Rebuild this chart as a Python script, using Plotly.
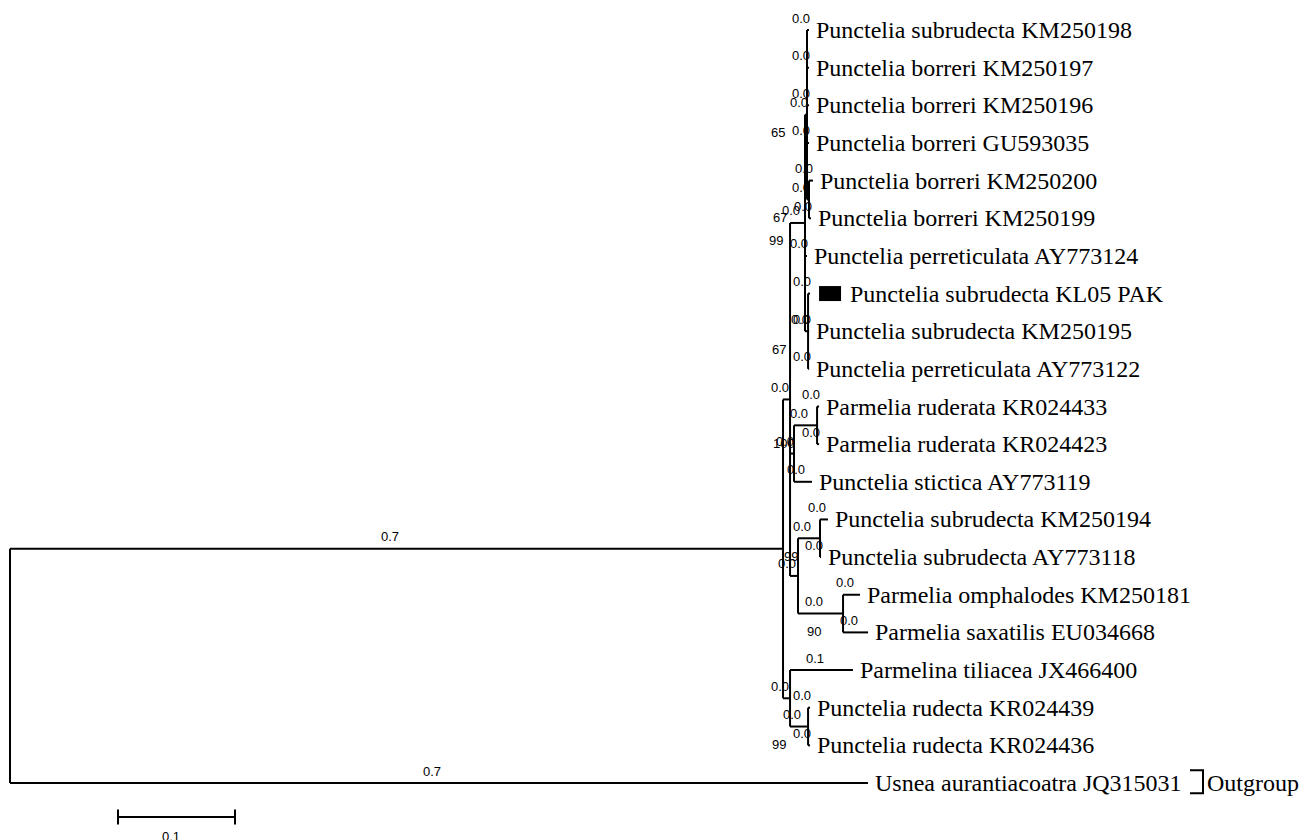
import plotly.graph_objects as go

# ---------------- data ----------------
LEAVES = [
    "Punctelia subrudecta KM250198",
    "Punctelia borreri KM250197",
    "Punctelia borreri KM250196",
    "Punctelia borreri GU593035",
    "Punctelia borreri KM250200",
    "Punctelia borreri KM250199",
    "Punctelia perreticulata AY773124",
    "Punctelia subrudecta KL05 PAK",
    "Punctelia subrudecta KM250195",
    "Punctelia perreticulata AY773122",
    "Parmelia ruderata KR024433",
    "Parmelia ruderata KR024423",
    "Punctelia stictica AY773119",
    "Punctelia subrudecta KM250194",
    "Punctelia subrudecta AY773118",
    "Parmelia omphalodes KM250181",
    "Parmelia saxatilis EU034668",
    "Parmelina tiliacea JX466400",
    "Punctelia rudecta KR024439",
    "Punctelia rudecta KR024436",
    "Usnea aurantiacoatra JQ315031",
]

# tree edges (parent, child, branch length)
EDGE_PARENT = ["root", "root",
               "A", "A",
               "B", "B", "B",
               "Q", "Q", "Q",
               "R", "R", "R", "R", "R",
               "S", "S",
               "T", "T", "T",
               "E", "E",
               "Ru", "Ru",
               "F", "F",
               "N194", "N194",
               "Om", "Om",
               "C", "C",
               "D", "D"]
EDGE_CHILD = ["A", "Usnea aurantiacoatra JQ315031",
              "B", "C",
              "Q", "E", "F",
              "R", "Punctelia perreticulata AY773124", "T",
              "Punctelia subrudecta KM250198", "Punctelia borreri KM250197",
              "Punctelia borreri KM250196", "Punctelia borreri GU593035", "S",
              "Punctelia borreri KM250200", "Punctelia borreri KM250199",
              "Punctelia subrudecta KL05 PAK", "Punctelia subrudecta KM250195",
              "Punctelia perreticulata AY773122",
              "Ru", "Punctelia stictica AY773119",
              "Parmelia ruderata KR024433", "Parmelia ruderata KR024423",
              "N194", "Om",
              "Punctelia subrudecta KM250194", "Punctelia subrudecta AY773118",
              "Parmelia omphalodes KM250181", "Parmelia saxatilis EU034668",
              "Parmelina tiliacea JX466400", "D",
              "Punctelia rudecta KR024439", "Punctelia rudecta KR024436"]
EDGE_LENGTH = [0.6607, 0.7333,
               0.0060, 0.0060,
               0.0128, 0.0034, 0.0068,
               0.0017, 0.0017, 0.0026,
               0.0017, 0.0017, 0.0017, 0.0017, 0.0017,
               0.0034, 0.0017,
               0.0017, 0.0009, 0.0009,
               0.0197, 0.0154,
               0.0017, 0.0017,
               0.0188, 0.0385,
               0.0068, 0.0009,
               0.0145, 0.0214,
               0.0538, 0.0154,
               0.0017, 0.0017]

BOOT_NODE = ["R", "S", "Q", "T", "Ru", "N194", "Om", "D"]
BOOT_VALUE = [65, 67, 99, 67, 100, 99, 90, 99]

HIGHLIGHT_LEAF = "Punctelia subrudecta KL05 PAK"
OUTGROUP_LEAF = "Usnea aurantiacoatra JQ315031"
OUTGROUP_TEXT = "Outgroup"
SCALE_BAR = 0.1
SCALE_LABEL = "0.1"

# ---------------- layout constants (page pixels) ----------------
PAGE_W, PAGE_H = 1307, 840
BODY_MARGIN = 8          # default page margin around the plot div
PX_PER_UNIT = 1170.0
ROOT_PX = 10.0
ROW_PX = 37.65
TOP_PX = 30.0
SERIF = "Liberation Serif"
SANS = "Liberation Sans"
LEAF_FONT = 24
NUM_FONT = 13


def px_x(px):
    return (px - ROOT_PX) / PX_PER_UNIT


def px_y(py):
    return (py - TOP_PX) / ROW_PX


# ---------------- tree layout ----------------
children = {}
blen = {}
for p, c, l in zip(EDGE_PARENT, EDGE_CHILD, EDGE_LENGTH):
    children.setdefault(p, []).append(c)
    blen[c] = l

X, Y = {}, {}


def place(node, x):
    X[node] = x
    if node in children:
        ys = [place(ch, x + blen[ch]) for ch in children[node]]
        Y[node] = (ys[0] + ys[-1]) / 2.0
    else:
        Y[node] = float(LEAVES.index(node))
    return Y[node]


place("root", 0.0)

lx, ly = [], []
for node, chs in children.items():
    lx += [X[node], X[node], None]
    ly += [Y[chs[0]], Y[chs[-1]], None]
    for ch in chs:
        lx += [X[node], X[ch], None]
        ly += [Y[ch], Y[ch], None]

fig = go.Figure()
fig.add_trace(go.Scatter(x=lx, y=ly, mode="lines",
                         line=dict(color="black", width=2),
                         hoverinfo="skip", showlegend=False))

ann = []
for p, c, l in zip(EDGE_PARENT, EDGE_CHILD, EDGE_LENGTH):
    ann.append(dict(x=(X[p] + X[c]) / 2.0, y=Y[c], text=f"{l:.1f}",
                    showarrow=False, xanchor="center", yanchor="middle",
                    xshift=-7, yshift=12,
                    font=dict(family=SANS, size=NUM_FONT, color="black")))
for n, v in zip(BOOT_NODE, BOOT_VALUE):
    ann.append(dict(x=X[n], y=Y[n], text=str(v), showarrow=False,
                    xanchor="right", yanchor="middle", xshift=-20, yshift=-18,
                    font=dict(family=SANS, size=NUM_FONT, color="black")))
for leaf in LEAVES:
    shift = 38 if leaf == HIGHLIGHT_LEAF else 5
    ann.append(dict(x=X[leaf], y=Y[leaf], text=leaf, showarrow=False,
                    xanchor="left", yanchor="middle", xshift=shift,
                    font=dict(family=SERIF, size=LEAF_FONT, color="black")))

shapes = []
hx = X[HIGHLIGHT_LEAF]
hy = Y[HIGHLIGHT_LEAF]
shapes.append(dict(type="rect", xref="x", yref="y",
                   x0=hx + 9 / PX_PER_UNIT, x1=hx + 31 / PX_PER_UNIT,
                   y0=hy - 7.5 / ROW_PX, y1=hy + 7.5 / ROW_PX,
                   fillcolor="black", line=dict(width=0)))

# outgroup bracket
oy = Y[OUTGROUP_LEAF]
bx0 = px_x(1190)
bx1 = px_x(1203)
by0 = oy - 0.34
by1 = oy + 0.27
fig.add_trace(go.Scatter(x=[bx0, bx1, bx1, bx0], y=[by0, by0, by1, by1],
                         mode="lines", line=dict(color="black", width=2),
                         hoverinfo="skip", showlegend=False))
ann.append(dict(x=bx1, y=oy, text=OUTGROUP_TEXT, showarrow=False,
                xanchor="left", yanchor="middle", xshift=2,
                font=dict(family=SERIF, size=LEAF_FONT, color="black")))

# scale bar
sx0 = px_x(118)
sx1 = sx0 + SCALE_BAR
sy = px_y(817)
tk = 7.5 / ROW_PX
fig.add_trace(go.Scatter(
    x=[sx0, sx1, None, sx0, sx0, None, sx1, sx1],
    y=[sy, sy, None, sy - tk, sy + tk, None, sy - tk, sy + tk],
    mode="lines", line=dict(color="black", width=2),
    hoverinfo="skip", showlegend=False))
ann.append(dict(x=(sx0 + sx1) / 2, y=sy, text=SCALE_LABEL, showarrow=False,
                xanchor="center", yanchor="middle", xshift=-6, yshift=-19,
                font=dict(family=SANS, size=NUM_FONT, color="black")))

fig_w = PAGE_W - BODY_MARGIN
fig_h = PAGE_H - BODY_MARGIN
fig.update_layout(
    width=fig_w, height=fig_h, autosize=False,
    margin=dict(l=0, r=0, t=0, b=0),
    paper_bgcolor="white", plot_bgcolor="white",
    annotations=ann, shapes=shapes, showlegend=False,
    xaxis=dict(range=[px_x(BODY_MARGIN), px_x(PAGE_W)],
               visible=False, fixedrange=True),
    yaxis=dict(range=[px_y(PAGE_H), px_y(BODY_MARGIN)],
               visible=False, fixedrange=True),
)

fig.write_html("out.html")
